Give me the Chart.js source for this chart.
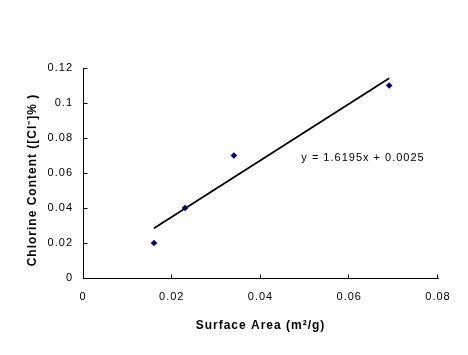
<!DOCTYPE html>
<html>
<head>
<meta charset="utf-8">
<script src="https://cdn.jsdelivr.net/npm/chart.js@4"></script>
<style>
  html, body { margin: 0; padding: 0; background: #ffffff; }
  canvas { display: block; }
</style>
</head>
<body>
<canvas id="c" width="468" height="355"></canvas>
<script>
// Data
const surfaceArea = [0.016, 0.023, 0.034, 0.069];
const chlorine = [0.02, 0.04, 0.07, 0.11];
const trendX = [0.016, 0.069];
const trendY = [0.0284, 0.1142];
const xTickValues = [0, 0.02, 0.04, 0.06, 0.08];
const xTickLabels = ['0', '0.02', '0.04', '0.06', '0.08'];
const yTickValues = [0, 0.02, 0.04, 0.06, 0.08, 0.1, 0.12];
const yTickLabels = ['0', '0.02', '0.04', '0.06', '0.08', '0.1', '0.12'];
const equationText = 'y = 1.6195x + 0.0025';
const xTitle = 'Surface Area (m\u00B2/g)';
const yTitle = 'Chlorine Content ([Cl\u207B]% )';

const FONT = '"Liberation Sans", Arial, sans-serif';

const pointData = surfaceArea.map((x, i) => ({ x: x, y: chlorine[i] }));
const trendData = trendX.map((x, i) => ({ x: x, y: trendY[i] }));

const spacing = {
  id: 'spacing',
  beforeUpdate(chart) { chart.ctx.letterSpacing = '1px'; },
  beforeLayout(chart) { chart.ctx.letterSpacing = '1px'; },
  beforeDraw(chart) { chart.ctx.letterSpacing = '1px'; }
};

const extras = {
  id: 'extras',
  afterDatasetsDraw(chart) {
    const ctx = chart.ctx;
    const xs = chart.scales.x, ys = chart.scales.y;
    ctx.save();
    ctx.strokeStyle = '#000000';
    ctx.lineWidth = 1;
    ctx.beginPath();
    yTickValues.forEach(v => {
      const py = Math.round(ys.getPixelForValue(v)) + 0.5;
      const px = Math.round(xs.left) + 0.5;
      ctx.moveTo(px, py);
      ctx.lineTo(px + 4, py);
    });
    xTickValues.forEach(v => {
      if (v === 0) return;
      const px = Math.round(xs.getPixelForValue(v)) - 0.5;
      const py = Math.round(ys.bottom) + 0.5;
      ctx.moveTo(px, py);
      ctx.lineTo(px, py - 4);
    });
    ctx.stroke();
    // equation annotation
    ctx.fillStyle = '#000000';
    ctx.letterSpacing = '1px';
    ctx.font = '11px ' + FONT;
    ctx.textBaseline = 'middle';
    ctx.textAlign = 'left';
    ctx.fillText(equationText, xs.getPixelForValue(0.0492), ys.getPixelForValue(0.0686));
    // y axis title (slightly below the plot centre, as in the reference)
    ctx.translate(33, (ys.top + ys.bottom) / 2 + 7);
    ctx.rotate(-Math.PI / 2);
    ctx.font = 'bold 12px ' + FONT;
    ctx.textAlign = 'center';
    ctx.fillText(yTitle, 0, 0);
    ctx.restore();
  }
};

new Chart(document.getElementById('c'), {
  type: 'scatter',
  data: {
    datasets: [
      {
        label: 'points',
        data: pointData,
        pointStyle: 'rectRot',
        pointRadius: 3.3,
        pointBackgroundColor: '#000080',
        pointBorderColor: '#000080',
        pointBorderWidth: 0,
        showLine: false,
        order: 1
      },
      {
        label: 'trend',
        data: trendData,
        showLine: true,
        borderColor: '#000000',
        borderWidth: 1.8,
        pointRadius: 0,
        fill: false,
        order: 2
      }
    ]
  },
  options: {
    responsive: false,
    animation: false,
    events: [],
    layout: { padding: { left: 0, top: 68, right: 30, bottom: 0 } },
    plugins: {
      legend: { display: false },
      tooltip: { enabled: false },
      title: { display: false }
    },
    scales: {
      x: {
        type: 'linear',
        min: 0,
        max: 0.08,
        afterFit(scale) { scale.height = 77; },
        afterBuildTicks(scale) { scale.ticks = xTickValues.map(v => ({ value: v })); },
        grid: { display: false, drawTicks: false },
        border: { display: true, color: '#000000', width: 1 },
        ticks: {
          padding: 12,
          color: '#000000',
          font: { family: FONT, size: 11 },
          maxRotation: 0,
          callback: (v, i) => xTickLabels[i]
        },
        title: {
          display: true,
          text: xTitle,
          color: '#000000',
          font: { family: FONT, size: 12, weight: 'bold' },
          padding: { top: 4, bottom: 22 }
        }
      },
      y: {
        type: 'linear',
        min: 0,
        max: 0.12,
        afterFit(scale) { scale.width = 83; },
        afterBuildTicks(scale) { scale.ticks = yTickValues.map(v => ({ value: v })); },
        grid: { display: false, drawTicks: false },
        border: { display: true, color: '#000000', width: 1 },
        ticks: {
          padding: 10,
          color: '#000000',
          font: { family: FONT, size: 11 },
          callback: (v, i) => yTickLabels[i]
        },
        title: { display: false }
      }
    }
  },
  plugins: [spacing, extras]
});
</script>
</body>
</html>
